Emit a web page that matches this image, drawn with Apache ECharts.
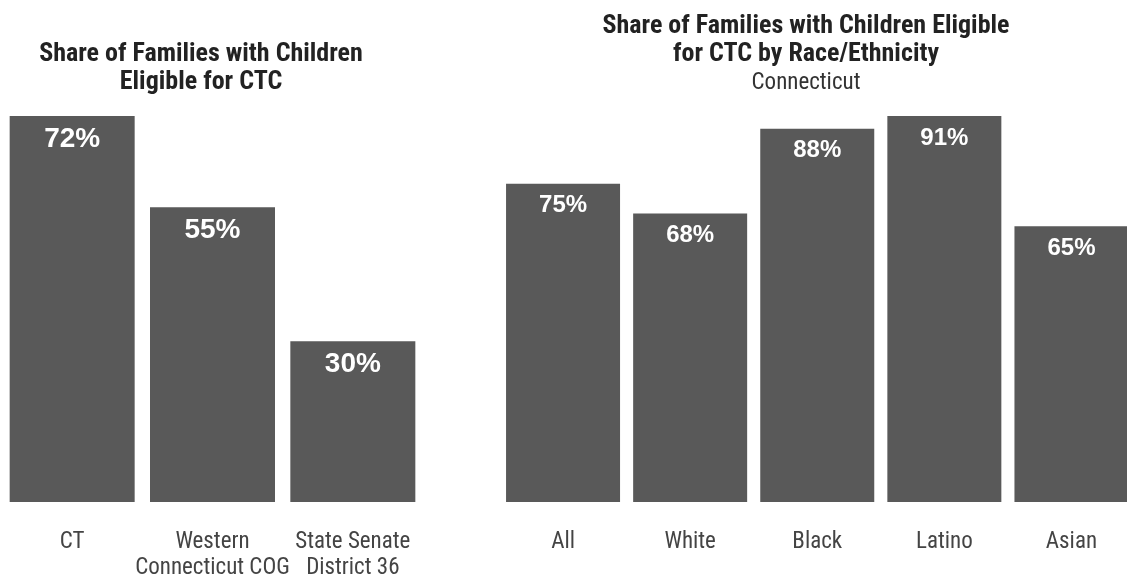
<!DOCTYPE html>
<html>
<head>
<meta charset="utf-8">
<script src="https://cdn.jsdelivr.net/npm/echarts@6/dist/echarts.min.js"></script>
<style>
html,body{margin:0;padding:0;background:#fff;}
#chart{width:1127px;height:579px;}
</style>
</head>
<body>
<div id="chart"></div>
<script>
const regionCategories = ['CT', 'Western\nConnecticut COG', 'State Senate\nDistrict 36'];
const regionValues = [72, 55, 30];
const raceCategories = ['All', 'White', 'Black', 'Latino', 'Asian'];
const raceValues = [75, 68, 88, 91, 65];

const FONT = '"Roboto Condensed", Roboto, "Noto Sans", sans-serif';
const chart = echarts.init(document.getElementById('chart'));
chart.setOption({
  backgroundColor: '#ffffff',
  animation: false,
  title: [
    {
      text: 'Share of Families with Children\nEligible for CTC',
      left: 196, top: 35, textAlign: 'center',
      textStyle: {fontFamily: FONT, fontWeight: 'bold', fontSize: 26, lineHeight: 28, color: '#222'}
    },
    {
      text: 'Share of Families with Children Eligible\nfor CTC by Race/Ethnicity',
      subtext: 'Connecticut',
      left: 801, top: 7, textAlign: 'center', itemGap: 1,
      textStyle: {fontFamily: FONT, fontWeight: 'bold', fontSize: 26, lineHeight: 28, color: '#222'},
      subtextStyle: {fontFamily: FONT, fontSize: 23, lineHeight: 28, color: '#333'}
    }
  ],
  grid: [
    {left: 2, top: 116, width: 421, height: 386, outerBoundsMode: 'none', containLabel: false},
    {left: 499.5, top: 116, width: 635.5, height: 386, outerBoundsMode: 'none', containLabel: false}
  ],
  xAxis: [
    {type: 'category', gridIndex: 0, data: regionCategories,
     axisLine: {show: false}, axisTick: {show: false},
     axisLabel: {fontFamily: FONT, fontSize: 23, lineHeight: 26, color: '#444', margin: 27, interval: 0}},
    {type: 'category', gridIndex: 1, data: raceCategories,
     axisLine: {show: false}, axisTick: {show: false},
     axisLabel: {fontFamily: FONT, fontSize: 23, lineHeight: 26, color: '#444', margin: 27, interval: 0}}
  ],
  yAxis: [
    {type: 'value', gridIndex: 0, min: 0, max: 72, show: false, splitLine: {show: false}},
    {type: 'value', gridIndex: 1, min: 0, max: 91, show: false, splitLine: {show: false}}
  ],
  series: [
    {type: 'bar', xAxisIndex: 0, yAxisIndex: 0, data: regionValues, barWidth: 125,
     itemStyle: {color: '#595959'},
     label: {show: true, position: 'insideTop', distance: 9, formatter: '{c}%',
             fontFamily: '"Liberation Sans", Arial, sans-serif', fontWeight: 'bold', fontSize: 28, color: '#fff'}},
    {type: 'bar', xAxisIndex: 1, yAxisIndex: 1, data: raceValues, barWidth: 114,
     itemStyle: {color: '#595959'},
     label: {show: true, position: 'insideTop', distance: 10, formatter: '{c}%',
             fontFamily: '"Liberation Sans", Arial, sans-serif', fontWeight: 'bold', fontSize: 24, color: '#fff'}}
  ]
});
</script>
</body>
</html>
